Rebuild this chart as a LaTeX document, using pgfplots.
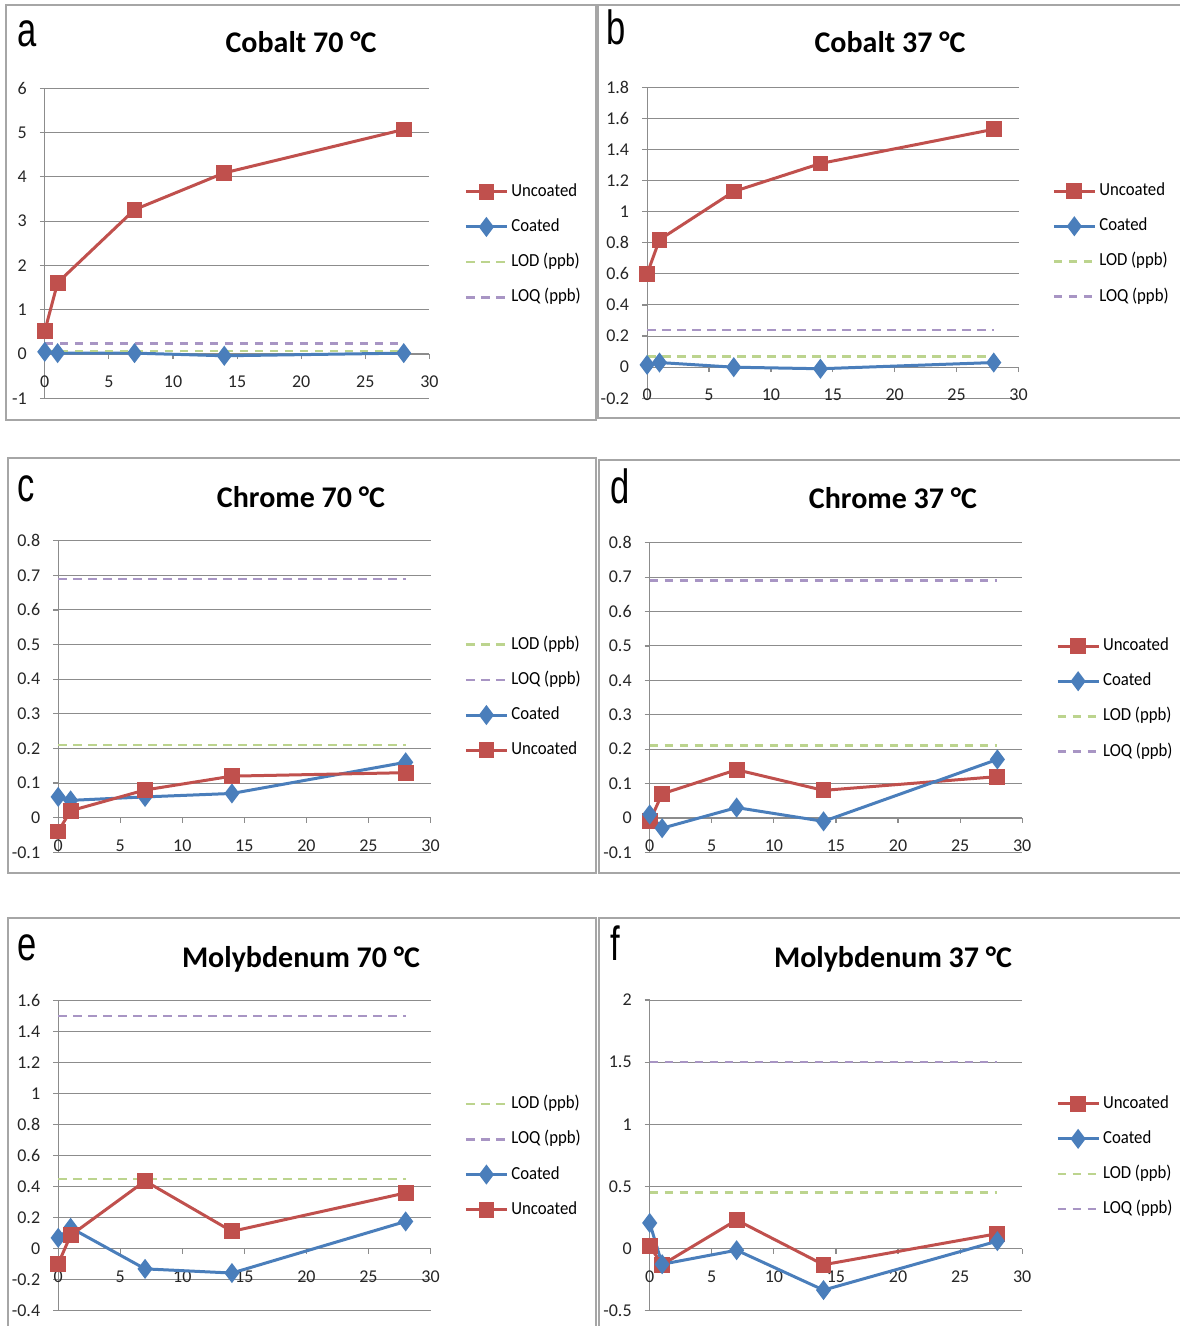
\documentclass[border=0pt]{standalone}
\usepackage{fontspec}
\setmainfont{Carlito}
\newfontfamily\letterfont{Liberation Sans}[FakeStretch=0.72]
\newfontfamily\condfont{Carlito}[FakeStretch=0.91]
\usepackage{pgfplots}
\pgfplotsset{compat=1.18}
\definecolor{cRed}{HTML}{C0504D}
\definecolor{cBlue}{HTML}{4A7EBB}
\definecolor{cLOD}{HTML}{BCD48E}
\definecolor{cLOQ}{HTML}{A895C4}
\definecolor{cGrid}{HTML}{8C8C8C}
\definecolor{cFrame}{HTML}{A6A6A6}
\pgfplotsset{
  panel/.style={
    scale only axis, anchor=south west,
    xmin=0, xmax=30,
    axis x line*=middle, axis y line*=left,
    hide obscured x ticks=false, hide obscured y ticks=false,
    xtick={0,5,10,15,20,25,30}, xticklabels={0,5,10,15,20,25,30},
    ymajorgrids,
    grid style={cGrid, line width=0.5pt},
    axis line style={cGrid, line width=0.6pt},
    tick style={cGrid, line width=0.6pt},
    tick align=outside, major tick length=2.5pt,
    ticklabel style={font=\fontsize{9}{10}\selectfont, text=black!85},
    xticklabel style={yshift=-5pt},
    yticklabel style={xshift=-3pt},
    clip=false,
    legend style={at={(axis description cs:1.09,0.695)}, anchor=north west,
      draw=none, fill=none, inner sep=0pt,
      font=\condfont\fontsize{9.2}{10}\selectfont,
      nodes={inner sep=0pt, text height=6.5pt, text depth=2pt},
      row sep=9.1pt,
      /tikz/every odd column/.append style={column sep=1.5pt}},
    legend cell align=left,
    legend image code/.code={\draw[mark repeat=2,mark phase=2,##1] plot coordinates {(0pt,0pt) (10.25pt,0pt) (20.5pt,0pt)};},
  },
  unc/.style={cRed, line width=1.5pt, mark=square*, mark size=3.2pt, mark options={solid, fill=cRed}},
  coa/.style={cBlue, line width=1.5pt, mark=diamond*, mark size=3.8pt, mark options={solid, fill=cBlue}},
  lod/.style={cLOD, line width=1.2pt, dash pattern=on 4.3pt off 3.2pt, mark=none},
  loq/.style={cLOQ, line width=1.2pt, dash pattern=on 4.3pt off 3.2pt, mark=none},
}
\begin{document}
\begin{tikzpicture}
\useasboundingbox (0pt,0pt) rectangle (589.5pt,-663pt);
\begin{scope}[x=0.5pt,y=-0.5pt]
  \draw[cFrame, line width=0.8pt] (6,5) rectangle (596,420);
  \draw[cFrame, line width=0.8pt] (598,5) rectangle (1190,418);
  \draw[cFrame, line width=0.8pt] (8,458) rectangle (596,873);
  \draw[cFrame, line width=0.8pt] (599,460) rectangle (1190,873);
  \draw[cFrame, line width=0.8pt] (8,918) rectangle (596,1340);
  \draw[cFrame, line width=0.8pt] (599,918) rectangle (1190,1340);
  \node[anchor=base west, inner sep=0pt, font=\letterfont\fontsize{24}{26}\selectfont] at (17,47) {a};
  \node[anchor=base west, inner sep=0pt, font=\letterfont\fontsize{24}{26}\selectfont] at (606,45) {b};
  \node[anchor=base west, inner sep=0pt, font=\letterfont\fontsize{24}{26}\selectfont] at (17,501) {c};
  \node[anchor=base west, inner sep=0pt, font=\letterfont\fontsize{24}{26}\selectfont] at (610,503) {d};
  \node[anchor=base west, inner sep=0pt, font=\letterfont\fontsize{24}{26}\selectfont] at (17,960) {e};
  \node[anchor=base west, inner sep=0pt, font=\letterfont\fontsize{24}{26}\selectfont] at (610,960) {f};
  \node[anchor=base, inner sep=0pt, font=\fontsize{15}{18}\selectfont\bfseries] at (301,53) {Cobalt 70 °C};
  \node[anchor=base, inner sep=0pt, font=\fontsize{15}{18}\selectfont\bfseries] at (890,53) {Cobalt 37 °C};
  \node[anchor=base, inner sep=0pt, font=\fontsize{15}{18}\selectfont\bfseries] at (301,507) {Chrome 70 °C};
  \node[anchor=base, inner sep=0pt, font=\fontsize{15}{18}\selectfont\bfseries] at (893,508) {Chrome 37 °C};
  \node[anchor=base, inner sep=0pt, font=\fontsize{15}{18}\selectfont\bfseries] at (301,967) {Molybdenum 70 °C};
  \node[anchor=base, inner sep=0pt, font=\fontsize{15}{18}\selectfont\bfseries] at (893,967) {Molybdenum 37 °C};
\end{scope}

% a: Cobalt 70
\begin{axis}[panel, at={(22.4pt,-199.15pt)}, width=192.3pt, height=155pt,
  ymin=-1, ymax=6, ytick={-1,0,1,2,3,4,5,6}, yticklabels={-1,0,1,2,3,4,5,6}]
\addplot[unc] coordinates {(0,0.52) (1,1.61) (7,3.26) (14,4.09) (28,5.07)};
\addlegendentry{Uncoated}
\addplot[coa] coordinates {(0,0.05) (1,0.02) (7,0.02) (14,-0.04) (28,0.02)};
\addlegendentry{Coated}
\addplot[lod] coordinates {(0,0.07) (1,0.07) (7,0.07) (14,0.07) (28,0.07)};
\addlegendentry{LOD (ppb)}
\addplot[loq] coordinates {(0,0.24) (1,0.24) (7,0.24) (14,0.24) (28,0.24)};
\addlegendentry{LOQ (ppb)}
\end{axis}

% b: Cobalt 37
\begin{axis}[panel, at={(323.55pt,-199.15pt)}, width=185.7pt, height=155.5pt,
  ymin=-0.2, ymax=1.8, ytick={-0.2,0,0.2,0.4,0.6,0.8,1,1.2,1.4,1.6,1.8},
  yticklabels={-0.2,0,0.2,0.4,0.6,0.8,1,1.2,1.4,1.6,1.8}]
\addplot[unc] coordinates {(0,0.60) (1,0.82) (7,1.13) (14,1.31) (28,1.53)};
\addlegendentry{Uncoated}
\addplot[coa] coordinates {(0,0.015) (1,0.03) (7,0.0) (14,-0.01) (28,0.03)};
\addlegendentry{Coated}
\addplot[lod] coordinates {(0,0.07) (1,0.07) (7,0.07) (14,0.07) (28,0.07)};
\addlegendentry{LOD (ppb)}
\addplot[loq] coordinates {(0,0.24) (1,0.24) (7,0.24) (14,0.24) (28,0.24)};
\addlegendentry{LOQ (ppb)}
\end{axis}

% c: Chrome 70
\begin{axis}[panel, at={(29.1pt,-426.15pt)}, width=186.15pt, height=155.8pt,
  ymin=-0.1, ymax=0.8, ytick={-0.1,0,0.1,0.2,0.3,0.4,0.5,0.6,0.7,0.8},
  yticklabels={-0.1,0,0.1,0.2,0.3,0.4,0.5,0.6,0.7,0.8}]
\addplot[lod] coordinates {(0,0.21) (1,0.21) (7,0.21) (14,0.21) (28,0.21)};
\addlegendentry{LOD (ppb)}
\addplot[loq] coordinates {(0,0.69) (1,0.69) (7,0.69) (14,0.69) (28,0.69)};
\addlegendentry{LOQ (ppb)}
\addplot[coa] coordinates {(0,0.06) (1,0.05) (7,0.06) (14,0.07) (28,0.16)};
\addlegendentry{Coated}
\addplot[unc] coordinates {(0,-0.04) (1,0.02) (7,0.08) (14,0.12) (28,0.13)};
\addlegendentry{Uncoated}
\end{axis}

% d: Chrome 37
\begin{axis}[panel, at={(324.85pt,-426.15pt)}, width=186.25pt, height=154.8pt,
  ymin=-0.1, ymax=0.8, ytick={-0.1,0,0.1,0.2,0.3,0.4,0.5,0.6,0.7,0.8},
  yticklabels={-0.1,0,0.1,0.2,0.3,0.4,0.5,0.6,0.7,0.8}]
\addplot[unc] coordinates {(0,-0.01) (1,0.07) (7,0.14) (14,0.08) (28,0.12)};
\addlegendentry{Uncoated}
\addplot[coa] coordinates {(0,0.01) (1,-0.03) (7,0.03) (14,-0.01) (28,0.17)};
\addlegendentry{Coated}
\addplot[lod] coordinates {(0,0.21) (1,0.21) (7,0.21) (14,0.21) (28,0.21)};
\addlegendentry{LOD (ppb)}
\addplot[loq] coordinates {(0,0.69) (1,0.69) (7,0.69) (14,0.69) (28,0.69)};
\addlegendentry{LOQ (ppb)}
\end{axis}

% e: Molybdenum 70
\begin{axis}[panel, at={(29.1pt,-655.35pt)}, width=186.15pt, height=155pt,
  ymin=-0.4, ymax=1.6, ytick={-0.4,-0.2,0,0.2,0.4,0.6,0.8,1,1.2,1.4,1.6},
  yticklabels={-0.4,-0.2,0,0.2,0.4,0.6,0.8,1,1.2,1.4,1.6}]
\addplot[lod] coordinates {(0,0.45) (1,0.45) (7,0.45) (14,0.45) (28,0.45)};
\addlegendentry{LOD (ppb)}
\addplot[loq] coordinates {(0,1.5) (1,1.5) (7,1.5) (14,1.5) (28,1.5)};
\addlegendentry{LOQ (ppb)}
\addplot[coa] coordinates {(0,0.07) (1,0.135) (7,-0.13) (14,-0.157) (28,0.176)};
\addlegendentry{Coated}
\addplot[unc] coordinates {(0,-0.097) (1,0.086) (7,0.437) (14,0.112) (28,0.36)};
\addlegendentry{Uncoated}
\end{axis}

% f: Molybdenum 37
\begin{axis}[panel, at={(324.85pt,-655.35pt)}, width=186.25pt, height=155.35pt,
  ymin=-0.5, ymax=2, ytick={-0.5,0,0.5,1,1.5,2},
  yticklabels={-0.5,0,0.5,1,1.5,2}]
\addplot[unc] coordinates {(0,0.02) (1,-0.13) (7,0.23) (14,-0.13) (28,0.12)};
\addlegendentry{Uncoated}
\addplot[coa] coordinates {(0,0.206) (1,-0.126) (7,-0.013) (14,-0.334) (28,0.06)};
\addlegendentry{Coated}
\addplot[lod] coordinates {(0,0.45) (1,0.45) (7,0.45) (14,0.45) (28,0.45)};
\addlegendentry{LOD (ppb)}
\addplot[loq] coordinates {(0,1.5) (1,1.5) (7,1.5) (14,1.5) (28,1.5)};
\addlegendentry{LOQ (ppb)}
\end{axis}
\end{tikzpicture}
\end{document}
